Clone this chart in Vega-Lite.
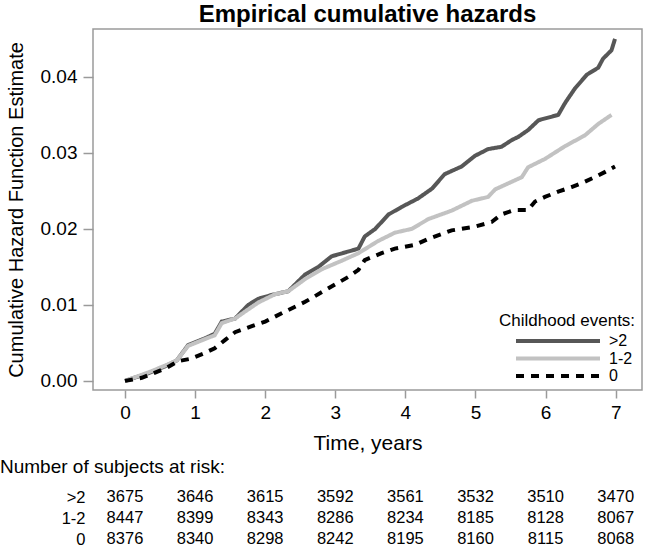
{
  "$schema": "https://vega.github.io/schema/vega-lite/v6.json",
  "padding": {"top": 2, "left": 0, "right": 0, "bottom": 0},
  "autosize": {"type": "pad"},
  "config": {
    "font": "Liberation Sans",
    "axis": {"labelFont": "Liberation Sans", "titleFont": "Liberation Sans", "labelColor": "#000000", "titleColor": "#000000", "titleFontWeight": "normal", "grid": false},
    "legend": {"orient": "bottom-right", "offset": 6, "padding": 0, "titleFont": "Liberation Sans", "labelFont": "Liberation Sans", "titleFontSize": 17, "titleFontWeight": "normal", "titleColor": "#000000", "labelColor": "#000000", "labelFontSize": 16, "symbolType": "M-6,0H6", "symbolSize": 196, "symbolStrokeWidth": 4, "symbolOffset": 50, "rowPadding": 0.5, "titlePadding": 2, "labelOffset": 42},
    "title": {"font": "Liberation Sans", "color": "#000000"},
    "concat": {"spacing": 4}
  },
  "resolve": {"legend": {"color": "independent", "strokeDash": "independent"}},
  "datasets": {
    "curves": [
      {"g": ">2", "t": 0, "h": 0}, {"g": ">2", "t": 0.33, "h": 0.001}, {"g": ">2", "t": 0.57, "h": 0.0019}, {"g": ">2", "t": 0.74, "h": 0.0027}, {"g": ">2", "t": 0.9, "h": 0.0047}, {"g": ">2", "t": 1.14, "h": 0.0056}, {"g": ">2", "t": 1.28, "h": 0.0062}, {"g": ">2", "t": 1.38, "h": 0.0078}, {"g": ">2", "t": 1.57, "h": 0.0082}, {"g": ">2", "t": 1.76, "h": 0.01}, {"g": ">2", "t": 1.9, "h": 0.0108}, {"g": ">2", "t": 2.09, "h": 0.0113}, {"g": ">2", "t": 2.33, "h": 0.0118}, {"g": ">2", "t": 2.57, "h": 0.014}, {"g": ">2", "t": 2.76, "h": 0.015}, {"g": ">2", "t": 2.95, "h": 0.0164}, {"g": ">2", "t": 3.14, "h": 0.0169}, {"g": ">2", "t": 3.33, "h": 0.0174}, {"g": ">2", "t": 3.42, "h": 0.019}, {"g": ">2", "t": 3.57, "h": 0.02}, {"g": ">2", "t": 3.76, "h": 0.0219}, {"g": ">2", "t": 3.95, "h": 0.0229}, {"g": ">2", "t": 4.18, "h": 0.024}, {"g": ">2", "t": 4.38, "h": 0.0253}, {"g": ">2", "t": 4.56, "h": 0.0272}, {"g": ">2", "t": 4.8, "h": 0.0282}, {"g": ">2", "t": 4.99, "h": 0.0296}, {"g": ">2", "t": 5.18, "h": 0.0305}, {"g": ">2", "t": 5.37, "h": 0.0308}, {"g": ">2", "t": 5.52, "h": 0.0317}, {"g": ">2", "t": 5.61, "h": 0.0321}, {"g": ">2", "t": 5.75, "h": 0.033}, {"g": ">2", "t": 5.9, "h": 0.0343}, {"g": ">2", "t": 6.18, "h": 0.035}, {"g": ">2", "t": 6.28, "h": 0.0366}, {"g": ">2", "t": 6.42, "h": 0.0385}, {"g": ">2", "t": 6.59, "h": 0.0403}, {"g": ">2", "t": 6.75, "h": 0.0412}, {"g": ">2", "t": 6.82, "h": 0.0424}, {"g": ">2", "t": 6.94, "h": 0.0435}, {"g": ">2", "t": 6.99, "h": 0.045},
      {"g": "1-2", "t": 0, "h": 0}, {"g": "1-2", "t": 0.33, "h": 0.0011}, {"g": "1-2", "t": 0.57, "h": 0.002}, {"g": "1-2", "t": 0.74, "h": 0.0027}, {"g": "1-2", "t": 0.9, "h": 0.0046}, {"g": "1-2", "t": 1.14, "h": 0.0055}, {"g": "1-2", "t": 1.28, "h": 0.006}, {"g": "1-2", "t": 1.38, "h": 0.0076}, {"g": "1-2", "t": 1.57, "h": 0.0082}, {"g": "1-2", "t": 1.71, "h": 0.0091}, {"g": "1-2", "t": 1.9, "h": 0.0103}, {"g": "1-2", "t": 2.14, "h": 0.0114}, {"g": "1-2", "t": 2.33, "h": 0.0118}, {"g": "1-2", "t": 2.57, "h": 0.0134}, {"g": "1-2", "t": 2.81, "h": 0.0147}, {"g": "1-2", "t": 3.09, "h": 0.0158}, {"g": "1-2", "t": 3.33, "h": 0.0168}, {"g": "1-2", "t": 3.61, "h": 0.0184}, {"g": "1-2", "t": 3.85, "h": 0.0195}, {"g": "1-2", "t": 4.09, "h": 0.02}, {"g": "1-2", "t": 4.33, "h": 0.0213}, {"g": "1-2", "t": 4.66, "h": 0.0224}, {"g": "1-2", "t": 4.95, "h": 0.0237}, {"g": "1-2", "t": 5.18, "h": 0.0242}, {"g": "1-2", "t": 5.28, "h": 0.0252}, {"g": "1-2", "t": 5.47, "h": 0.026}, {"g": "1-2", "t": 5.66, "h": 0.0268}, {"g": "1-2", "t": 5.75, "h": 0.0281}, {"g": "1-2", "t": 5.99, "h": 0.0292}, {"g": "1-2", "t": 6.28, "h": 0.0309}, {"g": "1-2", "t": 6.56, "h": 0.0323}, {"g": "1-2", "t": 6.75, "h": 0.0338}, {"g": "1-2", "t": 6.94, "h": 0.035},
      {"g": "0", "t": 0, "h": 0}, {"g": "0", "t": 0.24, "h": 0.0004}, {"g": "0", "t": 0.43, "h": 0.0011}, {"g": "0", "t": 0.59, "h": 0.0017}, {"g": "0", "t": 0.76, "h": 0.0026}, {"g": "0", "t": 0.93, "h": 0.0029}, {"g": "0", "t": 1.12, "h": 0.0036}, {"g": "0", "t": 1.28, "h": 0.0043}, {"g": "0", "t": 1.43, "h": 0.0054}, {"g": "0", "t": 1.57, "h": 0.0064}, {"g": "0", "t": 1.81, "h": 0.0072}, {"g": "0", "t": 2.0, "h": 0.0078}, {"g": "0", "t": 2.28, "h": 0.0091}, {"g": "0", "t": 2.57, "h": 0.0104}, {"g": "0", "t": 2.85, "h": 0.0119}, {"g": "0", "t": 3.19, "h": 0.0137}, {"g": "0", "t": 3.33, "h": 0.0146}, {"g": "0", "t": 3.42, "h": 0.0159}, {"g": "0", "t": 3.66, "h": 0.0168}, {"g": "0", "t": 3.85, "h": 0.0174}, {"g": "0", "t": 4.14, "h": 0.0179}, {"g": "0", "t": 4.33, "h": 0.0187}, {"g": "0", "t": 4.66, "h": 0.0198}, {"g": "0", "t": 4.99, "h": 0.0203}, {"g": "0", "t": 5.23, "h": 0.0209}, {"g": "0", "t": 5.37, "h": 0.0219}, {"g": "0", "t": 5.56, "h": 0.0225}, {"g": "0", "t": 5.75, "h": 0.0225}, {"g": "0", "t": 5.85, "h": 0.0236}, {"g": "0", "t": 5.99, "h": 0.0242}, {"g": "0", "t": 6.18, "h": 0.0249}, {"g": "0", "t": 6.37, "h": 0.0255}, {"g": "0", "t": 6.56, "h": 0.0262}, {"g": "0", "t": 6.7, "h": 0.0268}, {"g": "0", "t": 6.85, "h": 0.0275}, {"g": "0", "t": 6.99, "h": 0.0282}
    ],
    "risk": [
      {"g": ">2", "t": 0, "n": 3675}, {"g": ">2", "t": 1, "n": 3646}, {"g": ">2", "t": 2, "n": 3615}, {"g": ">2", "t": 3, "n": 3592}, {"g": ">2", "t": 4, "n": 3561}, {"g": ">2", "t": 5, "n": 3532}, {"g": ">2", "t": 6, "n": 3510}, {"g": ">2", "t": 7, "n": 3470},
      {"g": "1-2", "t": 0, "n": 8447}, {"g": "1-2", "t": 1, "n": 8399}, {"g": "1-2", "t": 2, "n": 8343}, {"g": "1-2", "t": 3, "n": 8286}, {"g": "1-2", "t": 4, "n": 8234}, {"g": "1-2", "t": 5, "n": 8185}, {"g": "1-2", "t": 6, "n": 8128}, {"g": "1-2", "t": 7, "n": 8067},
      {"g": "0", "t": 0, "n": 8376}, {"g": "0", "t": 1, "n": 8340}, {"g": "0", "t": 2, "n": 8298}, {"g": "0", "t": 3, "n": 8242}, {"g": "0", "t": 4, "n": 8195}, {"g": "0", "t": 5, "n": 8160}, {"g": "0", "t": 6, "n": 8115}, {"g": "0", "t": 7, "n": 8068}
    ]
  },
  "vconcat": [
    {
      "title": {"text": "Empirical cumulative hazards", "fontSize": 24, "fontWeight": "bold", "anchor": "middle", "offset": 2},
      "width": 549,
      "height": 361,
      "view": {"stroke": "#9a9a9a", "strokeWidth": 1.5},
      "data": {"name": "curves"},
      "mark": {"type": "line", "strokeWidth": 4, "clip": true},
      "encoding": {
        "x": {"field": "t", "type": "quantitative", "scale": {"domain": [-0.456, 7.375], "nice": false, "zero": false},
              "axis": {"values": [0, 1, 2, 3, 4, 5, 6, 7], "title": "Time, years", "domain": false, "tickColor": "#9a9a9a", "tickSize": 8, "tickWidth": 1.5, "labelFontSize": 19, "labelPadding": 5, "titleFontSize": 21, "titlePadding": 10, "labelFlush": false}},
        "y": {"field": "h", "type": "quantitative", "scale": {"domain": [-0.0012, 0.0463], "nice": false, "zero": false},
              "axis": {"values": [0, 0.01, 0.02, 0.03, 0.04], "format": ".2f", "title": "Cumulative Hazard Function Estimate", "domain": false, "tickColor": "#9a9a9a", "tickSize": 10, "tickWidth": 1.5, "labelFontSize": 19, "labelPadding": 6, "titleFontSize": 20, "titlePadding": 14}},
        "color": {"field": "g", "type": "nominal", "scale": {"domain": [">2", "1-2", "0"], "range": ["#575757", "#c2c2c2", "#000000"]}, "legend": {"title": "Childhood events:", "orient": "bottom-right"}},
        "strokeDash": {"field": "g", "type": "nominal", "scale": {"domain": [">2", "1-2", "0"], "range": [[1, 0], [1, 0], [8, 7]]}, "legend": {"title": "Childhood events:", "orient": "bottom-right"}}
      }
    },
    {
      "title": {"text": "Number of subjects at risk:", "anchor": "start", "frame": "group", "dx": -93, "fontSize": 19, "fontWeight": "normal", "offset": 12},
      "width": 549,
      "height": 42,
      "view": {"stroke": null},
      "data": {"name": "risk"},
      "mark": {"type": "text", "fontSize": 16.5, "align": "center", "baseline": "middle", "font": "Liberation Sans", "color": "#000000"},
      "encoding": {
        "x": {"field": "t", "type": "quantitative", "scale": {"domain": [-0.456, 7.375], "nice": false, "zero": false}, "axis": null},
        "y": {"field": "g", "type": "nominal", "scale": {"type": "point", "domain": [">2", "1-2", "0"], "padding": 0},
              "axis": {"title": null, "domain": false, "ticks": false, "tickSize": 0, "labelPadding": 8, "labelFontSize": 16.5}},
        "text": {"field": "n", "type": "quantitative", "format": "d"}
      }
    }
  ]
}
